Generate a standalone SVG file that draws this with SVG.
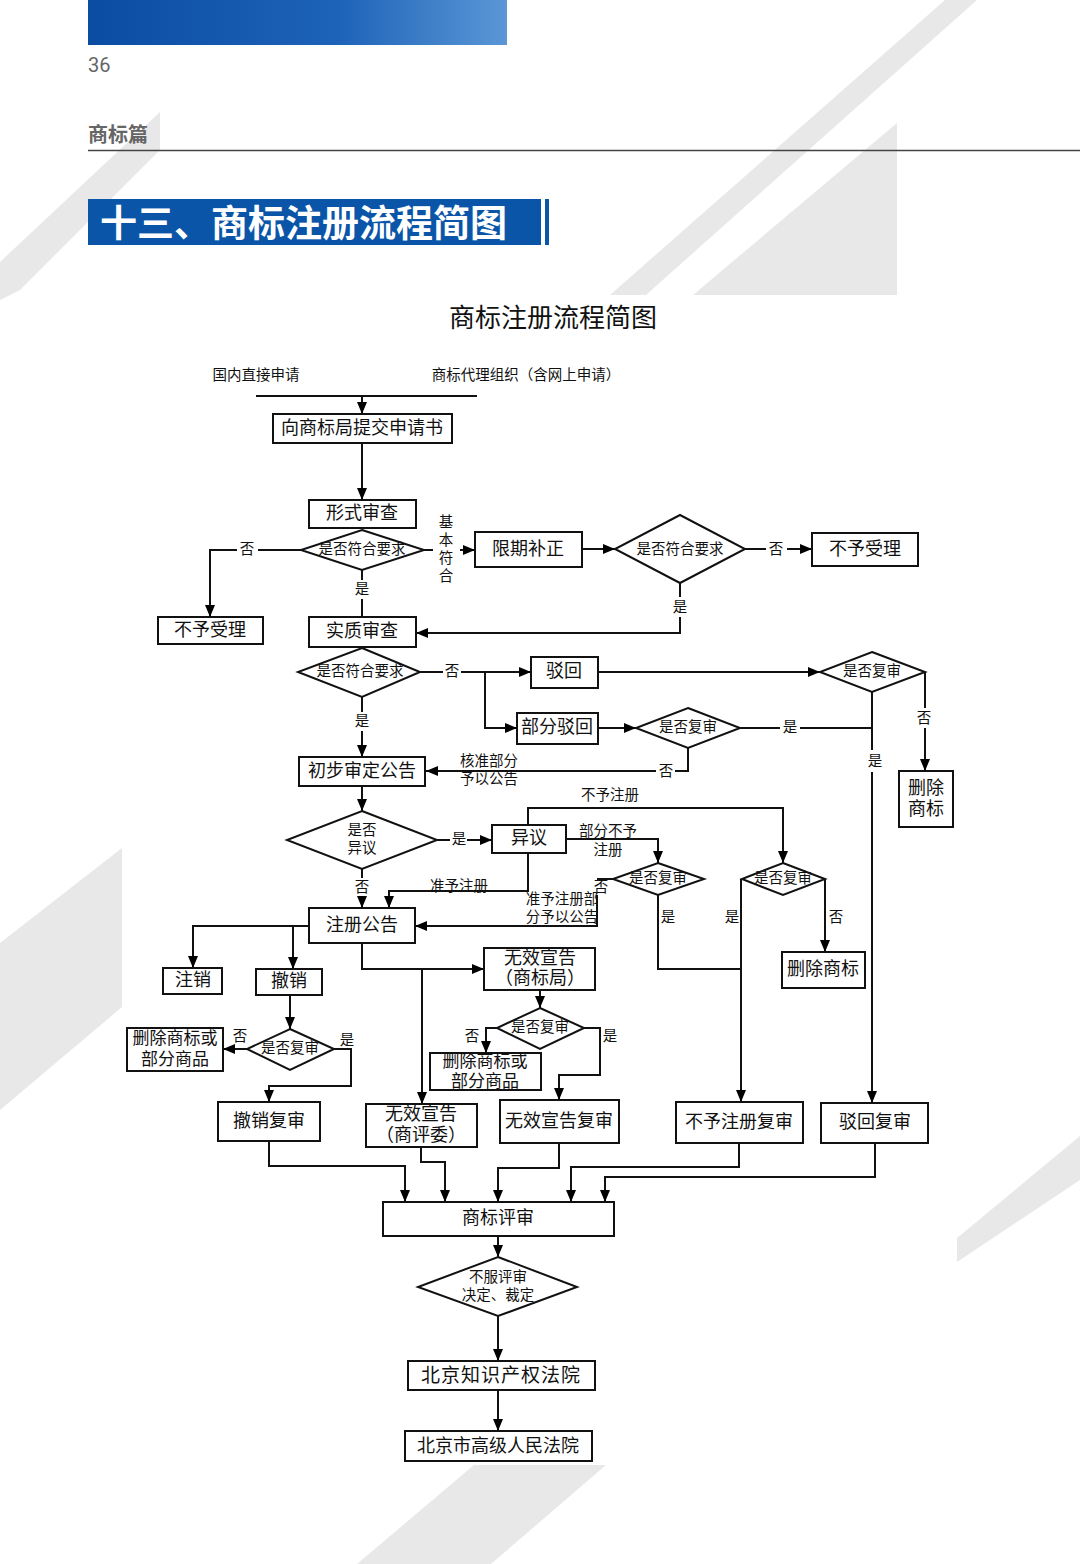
<svg xmlns="http://www.w3.org/2000/svg" width="1080" height="1564" viewBox="0 0 1080 1564">
<defs>
<linearGradient id="hg" x1="0" y1="0" x2="1" y2="0">
<stop offset="0" stop-color="#0a4ca2"/>
<stop offset="0.6" stop-color="#1d63b8"/>
<stop offset="1" stop-color="#5b97d6"/>
</linearGradient>
<marker id="ah" markerUnits="userSpaceOnUse" markerWidth="12" markerHeight="12" viewBox="0 0 12 10" refX="12" refY="5" orient="auto">
<path d="M0,0 L12,5 L0,10 z" fill="#000"/>
</marker>
<style>
.bg{fill:#e8e8e8}
.box{fill:#fff;stroke:#111;stroke-width:2}
.dia{fill:#fff;stroke:#111;stroke-width:2}
.c{fill:none;stroke:#111;stroke-width:2}
.a{marker-end:url(#ah)}
.t{font-family:"Liberation Serif","Noto Sans CJK SC",serif;font-size:18px;fill:#111;text-anchor:middle;dominant-baseline:central}
.s{font-family:"Liberation Serif","Noto Sans CJK SC",serif;font-size:14.5px;fill:#111;text-anchor:middle;dominant-baseline:central}
.l{font-family:"Liberation Serif","Noto Sans CJK SC",serif;font-size:14.5px;fill:#111;text-anchor:middle;dominant-baseline:central}
.sm{font-size:17px}
</style>
</defs>
<rect width="1080" height="1564" fill="#fff"/>
<g id="background">
<polygon class="bg" points="945,0 977,0 646,295 610,295"/>
<polygon class="bg" points="897,123 897,295 693,295"/>
<polygon class="bg" points="160,112 160,150 20,290 0,300 0,262"/>
<polygon class="bg" points="122,848 122,1007 0,1110 0,943"/>
<polygon class="bg" points="1080,1136 1080,1180 957,1262 957,1238"/>
<polygon class="bg" points="474,1465 606,1465 491,1564 357,1564"/>
</g>
<g id="header">
<rect x="88" y="0" width="419" height="45" fill="url(#hg)"/>
<text x="88" y="72" font-family="Roboto,'Liberation Sans',sans-serif" font-size="20" fill="#666">36</text>
<text x="88" y="142" font-family="'Noto Sans CJK SC',sans-serif" font-weight="bold" font-size="20" fill="#666">商标篇</text>
<line x1="88" y1="150.5" x2="1080" y2="150.5" stroke="#444" stroke-width="1.5"/>
<rect x="88" y="199" width="453" height="46" fill="#0b55a8"/>
<rect x="545" y="199" width="4" height="46" fill="#0b55a8"/>
<text x="100" y="237" font-family="'Noto Sans CJK SC',sans-serif" font-weight="bold" font-size="37" fill="#fff">十三、商标注册流程简图</text>
</g>
<text x="553" y="318" font-family="'Liberation Serif','Noto Sans CJK SC',serif" font-size="26" fill="#111" text-anchor="middle" dominant-baseline="central">商标注册流程简图</text>
<g id="connectors">
<path class="c" d="M256,396 H477"/>
<path class="c a" d="M362,396 V414"/>
<path class="c a" d="M362,443 V500"/>
<path class="c" d="M301,550 H258"/>
<path class="c a" d="M237,550 H210 V617"/>
<path class="c" d="M424,550 H433"/>
<path class="c a" d="M460,550 H475"/>
<path class="c a" d="M582,549 H615"/>
<path class="c" d="M745,549 H766"/>
<path class="c a" d="M787,549 H812"/>
<path class="c" d="M680,583 V597"/>
<path class="c a" d="M680,617 V633 H416"/>
<path class="c" d="M362,570 V580"/>
<path class="c" d="M362,599 V617"/>
<path class="c" d="M420,672 H443"/>
<path class="c a" d="M461,672 H531"/>
<path class="c a" d="M485,672 V728 H517"/>
<path class="c a" d="M598,672 H820"/>
<path class="c" d="M925,672 V708"/>
<path class="c a" d="M925,728 V771"/>
<path class="c" d="M872,692 V750"/>
<path class="c a" d="M872,772 V1103"/>
<path class="c a" d="M598,728 H636"/>
<path class="c" d="M740,728 H780"/>
<path class="c" d="M800,728 H872"/>
<path class="c" d="M688,748 V771 H675"/>
<path class="c a" d="M656,771 H426"/>
<path class="c" d="M362,697 V712"/>
<path class="c a" d="M362,731 V757"/>
<path class="c a" d="M362,786 V811"/>
<path class="c" d="M437,840 H450"/>
<path class="c a" d="M467,840 H492"/>
<path class="c a" d="M528,825 V808 H783 V863"/>
<path class="c a" d="M566,839 H658 V863"/>
<path class="c a" d="M528,853 V891 H389 V908"/>
<path class="c" d="M362,869 V878"/>
<path class="c a" d="M362,896 V908"/>
<path class="c" d="M613,879 H597"/>
<path class="c a" d="M597,895 V926 H415"/>
<path class="c" d="M658,895 V969 H740"/>
<path class="c a" d="M741,879 V1102"/>
<path class="c a" d="M825,879 V952"/>
<path class="c a" d="M309,926 H193 V968"/>
<path class="c a" d="M293,926 V969"/>
<path class="c a" d="M362,943 V969 H484"/>
<path class="c a" d="M422,969 V1104"/>
<path class="c a" d="M290,995 V1029"/>
<path class="c a" d="M247,1049 H223"/>
<path class="c a" d="M334,1049 H351 V1086 H269 V1102"/>
<path class="c a" d="M540,990 V1008"/>
<path class="c a" d="M497,1028 H486 V1053"/>
<path class="c a" d="M584,1028 H600 V1075 H559 V1100"/>
<path class="c a" d="M269,1141 V1166 H405 V1202"/>
<path class="c a" d="M421,1147 V1162 H445 V1202"/>
<path class="c a" d="M559,1143 V1168 H498 V1202"/>
<path class="c a" d="M739,1143 V1167 H571 V1202"/>
<path class="c a" d="M875,1143 V1177 H605 V1202"/>
<path class="c a" d="M498,1236 V1257"/>
<path class="c a" d="M498,1316 V1361"/>
<path class="c a" d="M498,1390 V1431"/>
</g>
<g id="labels">
<text class="l" x="256" y="375">国内直接申请</text>
<text class="l" x="526" y="375">商标代理组织（含网上申请）</text>
<text class="l" x="247" y="549">否</text>
<text class="l" x="446" y="522">基</text>
<text class="l" x="446" y="540">本</text>
<text class="l" x="446" y="558">符</text>
<text class="l" x="446" y="576">合</text>
<text class="l" x="776" y="549">否</text>
<text class="l" x="680" y="607">是</text>
<text class="l" x="362" y="589">是</text>
<text class="l" x="452" y="671">否</text>
<text class="l" x="924" y="718">否</text>
<text class="l" x="875" y="761">是</text>
<text class="l" x="790" y="727">是</text>
<text class="l" x="666" y="771">否</text>
<text class="l" x="489" y="761">核准部分</text>
<text class="l" x="489" y="779">予以公告</text>
<text class="l" x="362" y="721">是</text>
<text class="l" x="459" y="839">是</text>
<text class="l" x="610" y="795">不予注册</text>
<text class="l" x="608" y="831">部分不予</text>
<text class="l" x="608" y="850">注册</text>
<text class="l" x="459" y="886">准予注册</text>
<text class="l" x="362" y="887">否</text>
<text class="l" x="601" y="887">否</text>
<text class="l" x="562" y="899">准予注册部</text>
<text class="l" x="562" y="917">分予以公告</text>
<text class="l" x="668" y="917">是</text>
<text class="l" x="732" y="917">是</text>
<text class="l" x="836" y="917">否</text>
<text class="l" x="240" y="1036">否</text>
<text class="l" x="347" y="1040">是</text>
<text class="l" x="472" y="1036">否</text>
<text class="l" x="610" y="1036">是</text>
</g>
<g id="n1"><rect class="box" x="273" y="414" width="179" height="29"/><text class="t" x="362" y="428">向商标局提交申请书</text></g>
<g id="n2"><rect class="box" x="309" y="500" width="107" height="28"/><text class="t" x="362" y="513">形式审查</text></g>
<g id="d1"><polygon class="dia" points="362,530 424,550 362,570 301,550"/><text class="s" x="362" y="549">是否符合要求</text></g>
<g id="n3"><rect class="box" x="158" y="617" width="105" height="27"/><text class="t" x="210" y="630">不予受理</text></g>
<g id="n4"><rect class="box" x="475" y="532" width="107" height="35"/><text class="t" x="528" y="549">限期补正</text></g>
<g id="d2"><polygon class="dia" points="680,515 745,549 680,583 615,549"/><text class="s" x="680" y="549">是否符合要求</text></g>
<g id="n5"><rect class="box" x="812" y="533" width="106" height="33"/><text class="t" x="865" y="549">不予受理</text></g>
<g id="n6"><rect class="box" x="309" y="617" width="107" height="30"/><text class="t" x="362" y="631">实质审查</text></g>
<g id="d3"><polygon class="dia" points="362,648 420,672 362,697 298,672"/><text class="s" x="360" y="671">是否符合要求</text></g>
<g id="n7"><rect class="box" x="531" y="657" width="67" height="31"/><text class="t" x="564" y="671">驳回</text></g>
<g id="n8"><rect class="box" x="517" y="713" width="81" height="31"/><text class="t" x="557" y="727">部分驳回</text></g>
<g id="d4"><polygon class="dia" points="872,652 925,672 872,692 820,672"/><text class="s" x="872" y="671">是否复审</text></g>
<g id="d5"><polygon class="dia" points="688,708 740,728 688,748 636,728"/><text class="s" x="688" y="727">是否复审</text></g>
<g id="n9"><rect class="box" x="899" y="771" width="54" height="56"/><text class="t" x="926" y="788">删除</text><text class="t" x="926" y="809">商标</text></g>
<g id="n10"><rect class="box" x="299" y="757" width="126" height="29"/><text class="t" x="362" y="771">初步审定公告</text></g>
<g id="d6"><polygon class="dia" points="362,811 437,840 362,869 287,840"/><text class="s" x="362" y="830">是否</text><text class="s" x="362" y="848">异议</text></g>
<g id="n11"><rect class="box" x="492" y="825" width="74" height="28"/><text class="t" x="529" y="838">异议</text></g>
<g id="d7"><polygon class="dia" points="658,863 704,879 658,895 613,879"/><text class="s" x="658" y="878">是否复审</text></g>
<g id="d8"><polygon class="dia" points="783,863 825,879 783,895 742,879"/><text class="s" x="783" y="878">是否复审</text></g>
<g id="n12"><rect class="box" x="309" y="908" width="106" height="35"/><text class="t" x="362" y="925">注册公告</text></g>
<g id="n13"><rect class="box" x="163" y="968" width="59" height="26"/><text class="t" x="193" y="980">注销</text></g>
<g id="n14"><rect class="box" x="256" y="969" width="66" height="26"/><text class="t" x="289" y="981">撤销</text></g>
<g id="n15"><rect class="box" x="484" y="948" width="111" height="42"/><text class="t" x="540" y="958">无效宣告</text><text class="t" x="540" y="978">（商标局）</text></g>
<g id="n16"><rect class="box" x="782" y="952" width="83" height="36"/><text class="t" x="823" y="969">删除商标</text></g>
<g id="d9"><polygon class="dia" points="290,1029 334,1049 290,1070 247,1049"/><text class="s" x="290" y="1048">是否复审</text></g>
<g id="n17"><rect class="box" x="127" y="1028" width="96" height="43"/><text class="t sm" x="175" y="1038">删除商标或</text><text class="t sm" x="175" y="1059">部分商品</text></g>
<g id="d10"><polygon class="dia" points="540,1008 584,1028 540,1049 497,1028"/><text class="s" x="540" y="1027">是否复审</text></g>
<g id="n18"><rect class="box" x="430" y="1053" width="111" height="37"/><text class="t sm" x="485" y="1061">删除商标或</text><text class="t sm" x="485" y="1081">部分商品</text></g>
<g id="n19"><rect class="box" x="218" y="1102" width="102" height="39"/><text class="t" x="269" y="1121">撤销复审</text></g>
<g id="n20"><rect class="box" x="366" y="1104" width="111" height="43"/><text class="t" x="421" y="1114">无效宣告</text><text class="t" x="421" y="1135">（商评委）</text></g>
<g id="n21"><rect class="box" x="500" y="1100" width="119" height="43"/><text class="t" x="559" y="1121">无效宣告复审</text></g>
<g id="n22"><rect class="box" x="676" y="1102" width="127" height="41"/><text class="t" x="739" y="1122">不予注册复审</text></g>
<g id="n23"><rect class="box" x="821" y="1103" width="107" height="40"/><text class="t" x="875" y="1122">驳回复审</text></g>
<g id="n24"><rect class="box" x="383" y="1202" width="231" height="34"/><text class="t" x="498" y="1218">商标评审</text></g>
<g id="d11"><polygon class="dia" points="498,1257 577,1287 498,1316 418,1287"/><text class="l" x="498" y="1277">不服评审</text><text class="l" x="498" y="1295">决定、裁定</text></g>
<g id="n25"><rect class="box" x="408" y="1361" width="187" height="29"/><text class="t" x="501" y="1375" style="font-size:19px;letter-spacing:1px">北京知识产权法院</text></g>
<g id="n26"><rect class="box" x="405" y="1431" width="187" height="30"/><text class="t" x="498" y="1446">北京市高级人民法院</text></g>
</svg>
